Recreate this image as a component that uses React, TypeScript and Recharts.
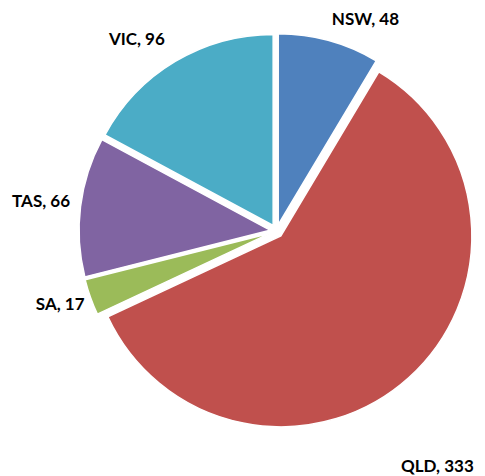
import { PieChart, Pie, Cell, Sector } from "recharts";

const states = ["NSW", "QLD", "SA", "TAS", "VIC"];
const counts = [48, 333, 17, 66, 96];
const colors = ["#4F81BD", "#C0504D", "#9BBB59", "#8064A2", "#4BACC6"];

// label tweaks (Excel moved a couple of them around)
const labelNudge = [
  [0, -6],
  [-15, 76],
  [4, 1],
  [0, -4],
  [-5, -9],
];

const data = states.map((name, i) => ({ name, value: counts[i] }));

const RADIAN = Math.PI / 180;
const EXPLODE = 6.5;

const ExplodedSlice = (props: any) => {
  const { cx, cy, midAngle } = props;
  const dx = Math.cos(-midAngle * RADIAN) * EXPLODE;
  const dy = Math.sin(-midAngle * RADIAN) * EXPLODE;
  return <Sector {...props} cx={cx + dx} cy={cy + dy} />;
};

const renderLabel = (props: any) => {
  const { cx, cy, midAngle, outerRadius, index, name, value } = props;
  const ux = Math.cos(-midAngle * RADIAN);
  const uy = Math.sin(-midAngle * RADIAN);
  const r = outerRadius + 17;
  const [nx, ny] = labelNudge[index] || [0, 0];
  const x = cx + ux * r + nx;
  const y = cy + uy * r + uy * 6 + ny;
  return (
    <text
      x={x}
      y={y}
      textAnchor={ux < 0 ? "end" : "start"}
      dominantBaseline="central"
      fill="#000"
      fontSize={17}
      fontWeight="bold"
      fontFamily="Lato, sans-serif"
    >
      {`${name}, ${value}`}
    </text>
  );
};

export default function App() {
  return (
    <div style={{ position: "absolute", left: 0, top: 0 }}>
      <PieChart width={485} height={476}>
        <Pie
          data={data}
          dataKey="value"
          nameKey="name"
          cx={271.5}
          cy={226}
          outerRadius={191}
          startAngle={90}
          endAngle={-270}
          stroke="#fff"
          strokeWidth={1.5}
          label={renderLabel}
          labelLine={false}
          shape={ExplodedSlice}
          inactiveShape={ExplodedSlice}
          activeShape={ExplodedSlice}
          isAnimationActive={false}
        >
          {data.map((d, i) => (
            <Cell key={d.name} fill={colors[i]} />
          ))}
        </Pie>
      </PieChart>
    </div>
  );
}
